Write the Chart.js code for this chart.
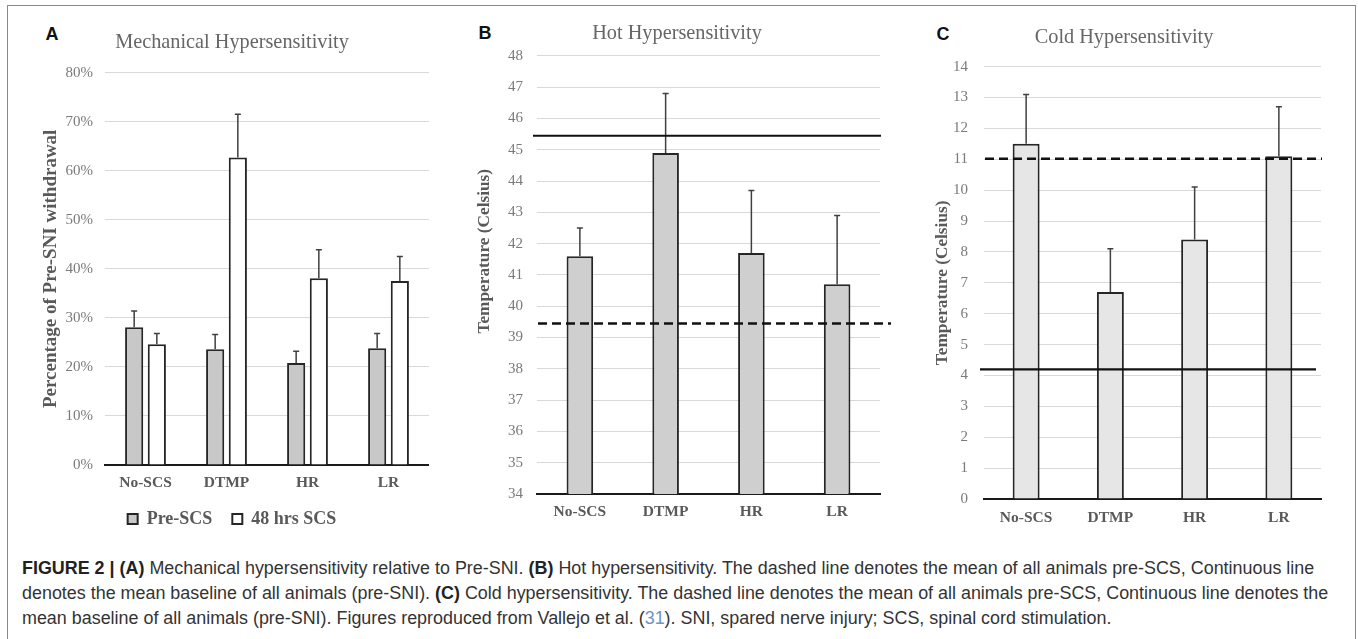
<!DOCTYPE html>
<html><head><meta charset="utf-8">
<script src="https://cdn.jsdelivr.net/npm/chart.js@4/dist/chart.umd.min.js"></script>
<style>
html,body{margin:0;padding:0;background:#fff;width:1358px;height:639px;overflow:hidden;position:relative;}
#frame{position:absolute;left:7px;top:5px;width:1349px;height:650px;border:1.5px solid #8a8a8a;box-sizing:border-box;}
canvas{position:absolute;}
.lbl{position:absolute;font:bold 18px "Liberation Sans",Arial,sans-serif;color:#111;transform:translate(-50%,-50%);line-height:1;}
.cap{position:absolute;left:22px;font-family:"Liberation Sans",Arial,sans-serif;font-size:15.5px;color:#333;white-space:nowrap;line-height:1;}
.cap b{color:#222;}
</style></head><body>
<div id="frame"></div>
<div class="lbl" style="left:52px;top:34px">A</div>
<div class="lbl" style="left:485px;top:33px">B</div>
<div class="lbl" style="left:943px;top:34px">C</div>
<canvas id="cA" width="394" height="530" style="left:35px;top:8px"></canvas>
<canvas id="cB" width="426" height="516" style="left:474px;top:8px"></canvas>
<canvas id="cC" width="404" height="521" style="left:927px;top:8px"></canvas>
<div class="cap" id="l1"><b>FIGURE 2 | (A)</b> Mechanical hypersensitivity relative to Pre-SNI. <b>(B)</b> Hot hypersensitivity. The dashed line denotes the mean of all animals pre-SCS, Continuous line</div>
<div class="cap" id="l2">denotes the mean baseline of all animals (pre-SNI). <b>(C)</b> Cold hypersensitivity. The dashed line denotes the mean of all animals pre-SCS, Continuous line denotes the</div>
<div class="cap" id="l3">mean baseline of all animals (pre-SNI). Figures reproduced from Vallejo et al. (<span style="color:#6d93c4">31</span>). SNI, spared nerve injury; SCS, spinal cord stimulation.</div>
<script>
// ---- data ----
const categories = ['No-SCS', 'DTMP', 'HR', 'LR'];
const seriesNames = ['Pre-SCS', '48 hrs SCS'];
const mechPre = [28.1, 23.6, 20.8, 23.8];
const mechPreErr = [3.3, 3.0, 2.4, 3.0];
const mech48 = [24.6, 62.7, 38.1, 37.5];
const mech48Err = [2.2, 8.8, 5.8, 5.0];
const hotTemp = [41.6, 44.9, 41.7, 40.7];
const hotErr = [0.9, 1.9, 2.0, 2.2];
const hotBaseline = 45.45;
const hotPreSCS = 39.45;
const coldTemp = [11.5, 6.7, 8.4, 11.1];
const coldErr = [1.6, 1.4, 1.7, 1.6];
const coldBaseline = 4.2;
const coldPreSCS = 11.02;
const mechTicks = {min: 0, max: 80, step: 10};
const hotTicks = {min: 34, max: 48, step: 1};
const coldTicks = {min: 0, max: 14, step: 1};

Chart.defaults.font.family = '"Liberation Serif", "Times New Roman", serif';
Chart.defaults.animation = false;

const errorBars = {
  id: 'errorBars',
  afterDatasetsDraw(chart, args, opts) {
    const ctx = chart.ctx, ys = chart.scales.y;
    chart.data.datasets.forEach((ds, i) => {
      if (!ds.errors) return;
      const meta = chart.getDatasetMeta(i);
      meta.data.forEach((bar, j) => {
        const top = ys.getPixelForValue(ds.data[j] + ds.errors[j]);
        ctx.save();
        ctx.strokeStyle = opts.color; ctx.lineWidth = opts.width;
        ctx.beginPath();
        ctx.moveTo(bar.x, bar.y); ctx.lineTo(bar.x, top);
        ctx.moveTo(bar.x - opts.cap, top); ctx.lineTo(bar.x + opts.cap, top);
        ctx.stroke(); ctx.restore();
      });
    });
  }
};
const refLines = {
  id: 'refLines',
  afterDatasetsDraw(chart, args, opts) {
    const {ctx, chartArea, scales: {y}} = chart;
    (opts.lines || []).forEach(l => {
      const py = y.getPixelForValue(l.value);
      ctx.save();
      ctx.strokeStyle = '#111'; ctx.lineWidth = l.width; ctx.setLineDash(l.dash || []);
      ctx.beginPath(); ctx.moveTo(chartArea.left + l.x0, py); ctx.lineTo(chartArea.right + l.x1, py);
      ctx.stroke(); ctx.restore();
    });
  }
};

function yScale(t, yw, titleText, titleSize, titlePad, tickPad, cb) {
  return {
    min: t.min, max: t.max,
    ticks: {stepSize: t.step, color: '#7a7a7a', font: {size: 15}, padding: tickPad, callback: cb || (v => v)},
    grid: {color: '#d9d9d9', lineWidth: 1, drawTicks: false},
    border: {display: false},
    title: {display: true, text: titleText, color: '#595959', font: {size: titleSize, weight: 'bold'}, padding: {top: titlePad, bottom: 0}},
    afterFit: s => { s.width = yw; }
  };
}
function xScale(h, pad) {
  return {
    ticks: {color: '#595959', font: {size: 15.5, weight: 'bold'}, padding: pad, maxRotation: 0},
    grid: {display: false, drawTicks: false},
    border: {display: true, color: '#1a1a1a', width: 2},
    afterFit: s => { s.height = h; }
  };
}
function titleOpt(text, pt, pb) {
  return {display: true, text, color: '#666', font: {size: 20.3, weight: 'normal'}, padding: {top: pt, bottom: pb}};
}

new Chart(document.getElementById('cA'), {
  type: 'bar',
  data: {labels: categories, datasets: [
    {label: seriesNames[0], data: mechPre, errors: mechPreErr, backgroundColor: '#c8c8c8', borderColor: '#262626', borderWidth: 2},
    {label: seriesNames[1], data: mech48, errors: mech48Err, backgroundColor: '#ffffff', borderColor: '#262626', borderWidth: 2}
  ]},
  options: {
    responsive: false,
    categoryPercentage: 0.56, barPercentage: 0.8,
    layout: {padding: {left: 0, right: 0, top: 0, bottom: 0}},
    scales: {
      x: xScale(25, 9),
      y: yScale(mechTicks, 70, 'Percentage of Pre-SNI withdrawal', 19, 5.1, 12, v => v + '%')
    },
    plugins: {
      title: titleOpt('Mechanical Hypersensitivity', 22.5, 17.8),
      legend: {display: true, position: 'bottom', labels: {boxWidth: 10, boxHeight: 10, padding: 20, color: '#595959', font: {size: 18, weight: 'bold'}}},
      tooltip: {enabled: false},
      errorBars: {color: '#404040', width: 1.5, cap: 3}
    }
  },
  plugins: [errorBars]
});

new Chart(document.getElementById('cB'), {
  type: 'bar',
  data: {labels: categories, datasets: [
    {label: 'Hot', data: hotTemp, errors: hotErr, backgroundColor: '#cfcfcf', borderColor: '#262626', borderWidth: 2}
  ]},
  options: {
    responsive: false,
    categoryPercentage: 0.31, barPercentage: 1,
    layout: {padding: {left: 0, right: 20, top: 0, bottom: 0}},
    scales: {
      x: xScale(30, 9.1),
      y: yScale(hotTicks, 63, '\u00a0'.repeat(11) + 'Temperature (Celsius)', 17.3, 0.6, 14)
    },
    plugins: {
      title: titleOpt('Hot Hypersensitivity', 13.1, 10.5),
      legend: {display: false},
      tooltip: {enabled: false},
      errorBars: {color: '#404040', width: 1.5, cap: 3},
      refLines: {lines: [
        {value: hotBaseline, width: 2.2, dash: [], x0: -4, x1: 1},
        {value: hotPreSCS, width: 2.5, dash: [9, 5], x0: 1, x1: 11}
      ]}
    }
  },
  plugins: [errorBars, refLines]
});

new Chart(document.getElementById('cC'), {
  type: 'bar',
  data: {labels: categories, datasets: [
    {label: 'Cold', data: coldTemp, errors: coldErr, backgroundColor: '#e6e6e6', borderColor: '#262626', borderWidth: 2}
  ]},
  options: {
    responsive: false,
    categoryPercentage: 0.32, barPercentage: 1,
    layout: {padding: {left: 0, right: 10, top: 0, bottom: 0}},
    scales: {
      x: xScale(30, 9.8),
      y: yScale(coldTicks, 57, 'Temperature (Celsius)', 17.3, 5.1, 16)
    },
    plugins: {
      title: titleOpt('Cold Hypersensitivity', 17.5, 16.8),
      legend: {display: false},
      tooltip: {enabled: false},
      errorBars: {color: '#404040', width: 1.5, cap: 3},
      refLines: {lines: [
        {value: coldBaseline, width: 2.2, dash: [], x0: -4, x1: -5},
        {value: coldPreSCS, width: 2.5, dash: [9, 5], x0: 1, x1: 1}
      ]}
    }
  },
  plugins: [errorBars, refLines]
});

// caption fitting
(function () {
  const l1 = document.getElementById('l1');
  const w = l1.getBoundingClientRect().width;
  const fs = 15.5 * 1293 / w;
  const centers = [569.3, 594.3, 619.3];
  ['l1', 'l2', 'l3'].forEach((id, i) => {
    const el = document.getElementById(id);
    el.style.fontSize = fs + 'px';
    const h = el.getBoundingClientRect().height;
    el.style.top = (centers[i] - h / 2) + 'px';
  });
})();
</script>
</body></html>
